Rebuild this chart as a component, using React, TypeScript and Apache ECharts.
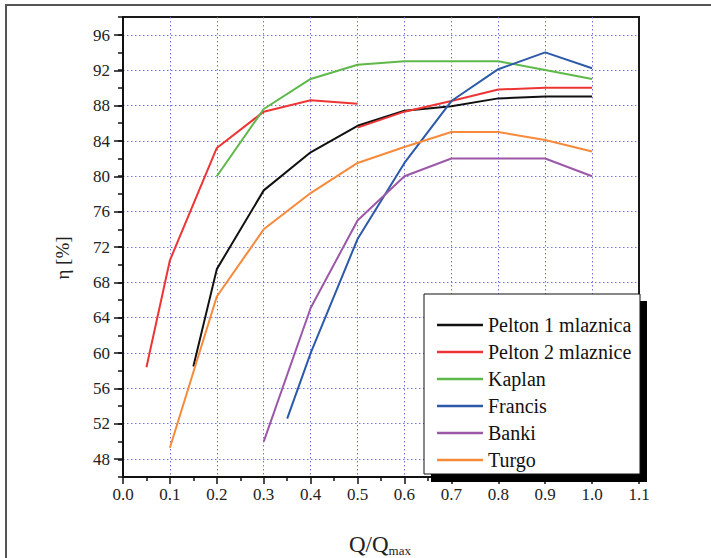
import React, { useEffect, useRef } from "react";
import * as echarts from "echarts";

const seriesNames = ["Pelton 1 mlaznica", "Pelton 2 mlaznice", "Kaplan", "Francis", "Banki", "Turgo"];
const seriesColors = ["#111111", "#ee3535", "#5fb84a", "#2c59a8", "#9b58a8", "#f68a3a"];

const pelton1X = [0.15, 0.2, 0.3, 0.4, 0.5, 0.6, 0.7, 0.8, 0.9, 1.0];
const pelton1Y = [58.5, 69.5, 78.4, 82.7, 85.7, 87.4, 87.9, 88.8, 89.0, 89.0];

const pelton2LowX = [0.05, 0.1, 0.2, 0.3, 0.4, 0.5];
const pelton2LowY = [58.4, 70.5, 83.2, 87.3, 88.6, 88.2];
const pelton2HighX = [0.5, 0.6, 0.7, 0.8, 0.9, 1.0];
const pelton2HighY = [85.5, 87.3, 88.5, 89.8, 90.0, 90.0];

const kaplanX = [0.2, 0.3, 0.4, 0.5, 0.6, 0.7, 0.8, 0.9, 1.0];
const kaplanY = [80.0, 87.6, 91.0, 92.6, 93.0, 93.0, 93.0, 92.0, 91.0];

const francisX = [0.35, 0.4, 0.5, 0.6, 0.7, 0.8, 0.9, 1.0];
const francisY = [52.6, 60.0, 72.9, 81.5, 88.5, 92.1, 94.0, 92.2];

const bankiX = [0.3, 0.4, 0.5, 0.6, 0.7, 0.8, 0.9, 1.0];
const bankiY = [50.0, 65.1, 75.0, 80.0, 82.0, 82.0, 82.0, 80.0];

const turgoX = [0.1, 0.2, 0.3, 0.4, 0.5, 0.6, 0.7, 0.8, 0.9, 1.0];
const turgoY = [49.3, 66.4, 74.0, 78.1, 81.5, 83.3, 85.0, 85.0, 84.1, 82.8];

const xTicks = { min: 0, max: 1.1, interval: 0.1 };
const yMinor = { min: 46, max: 98, interval: 2 };
const yMajor = { min: 48, max: 96, interval: 4 };

const zip = (xs: number[], ys: number[]) => xs.map((x, i) => [x, ys[i]]);

const FONT = "Liberation Serif";

export default function App() {
  const ref = useRef<HTMLDivElement>(null);
  useEffect(() => {
    if (!ref.current) return;
    const chart = echarts.init(ref.current, undefined, { renderer: "svg" });
    const seriesData = [
      zip(pelton1X, pelton1Y),
      [...zip(pelton2LowX, pelton2LowY), [0.5, null], ...zip(pelton2HighX, pelton2HighY)],
      zip(kaplanX, kaplanY),
      zip(francisX, francisY),
      zip(bankiX, bankiY),
      zip(turgoX, turgoY),
    ];
    const gridLineColor = "#7474d2";
    chart.setOption({
      animation: false,
      backgroundColor: "#ffffff",
      grid: [
        { left: 123, right: 72, top: 17, bottom: 81, show: true, borderColor: "#1a1a1a", borderWidth: 2, backgroundColor: "transparent" },
        { left: 123, right: 72, top: 35, bottom: 99, show: false },
      ],
      xAxis: [
        {
          type: "value",
          gridIndex: 0,
          min: xTicks.min,
          max: xTicks.max,
          interval: xTicks.interval,
          axisLine: { show: true, onZero: false, lineStyle: { color: "#111", width: 2 } },
          axisTick: { show: true, length: 7, lineStyle: { color: "#111", width: 1.5 } },
          minorTick: { show: true, splitNumber: 2, length: 4, lineStyle: { color: "#111", width: 1.5 } },
          axisLabel: {
            formatter: (v: number) => v.toFixed(1),
            fontFamily: FONT,
            fontSize: 17,
            color: "#222",
            margin: 9,
          },
          splitLine: {
            show: true,
            showMinLine: false,
            showMaxLine: false,
            lineStyle: { color: gridLineColor, type: [1.5, 2.5], width: 1 },
          },
        },
        { type: "value", gridIndex: 1, min: xTicks.min, max: xTicks.max, show: false },
      ],
      yAxis: [
        {
          type: "value",
          gridIndex: 0,
          min: yMinor.min,
          max: yMinor.max,
          interval: yMinor.interval,
          axisLine: { show: true, onZero: false, lineStyle: { color: "#111", width: 2 } },
          axisTick: { show: true, length: 5, lineStyle: { color: "#111", width: 1.5 } },
          axisLabel: { show: false },
          splitLine: { show: false },
        },
        {
          type: "value",
          gridIndex: 1,
          min: yMajor.min,
          max: yMajor.max,
          interval: yMajor.interval,
          axisLine: { show: false },
          axisTick: { show: true, length: 9, lineStyle: { color: "#111", width: 1.5 } },
          axisLabel: { fontFamily: FONT, fontSize: 17, color: "#222", margin: 13 },
          splitLine: { show: true, lineStyle: { color: gridLineColor, type: [1.5, 2.5], width: 1 } },
        },
      ],
      legend: {
        show: true,
        data: seriesNames.map((name) => ({ name, icon: "rect" })),
        orient: "vertical",
        left: 437,
        top: 315,
        padding: 0,
        itemWidth: 46,
        itemHeight: 2.5,
        itemGap: 7,
        selectedMode: false,
        z: 20,
        textStyle: { fontFamily: FONT, fontSize: 20, color: "#111", lineHeight: 20 },
      },
      graphic: [
        { type: "line", shape: { x1: 5, y1: 5, x2: 711, y2: 5 }, style: { stroke: "#555", lineWidth: 2 }, z: 1 },
        { type: "line", shape: { x1: 6, y1: 5, x2: 6, y2: 558 }, style: { stroke: "#555", lineWidth: 2 }, z: 1 },
        { type: "rect", shape: { x: 431, y: 301, width: 216, height: 181 }, style: { fill: "#000" }, z: 10 },
        { type: "rect", shape: { x: 424, y: 294, width: 216, height: 180 }, style: { fill: "#fff", stroke: "#111", lineWidth: 1 }, z: 11 },
        {
          type: "text",
          x: 62,
          y: 258,
          rotation: Math.PI / 2,
          style: { text: "η [%]", font: `19px "${FONT}"`, fill: "#222", align: "center", verticalAlign: "middle" },
          z: 5,
        },
        {
          type: "text",
          x: 380,
          y: 544,
          style: {
            text: "{a|Q/Q}{s|max}",
            align: "center",
            verticalAlign: "middle",
            rich: {
              a: { fontFamily: FONT, fontSize: 23, fill: "#222", color: "#222" },
              s: { fontFamily: FONT, fontSize: 13, fill: "#222", color: "#222", padding: [12, 0, 0, 0] },
            },
          },
          z: 5,
        },
      ],
      series: seriesNames.map((name, i) => ({
        name,
        type: "line",
        xAxisIndex: 0,
        yAxisIndex: 0,
        data: seriesData[i],
        symbol: "none",
        connectNulls: false,
        color: seriesColors[i],
        itemStyle: { color: seriesColors[i] },
        lineStyle: { color: seriesColors[i], width: 2 },
        z: 3,
      })),
    });
    return () => chart.dispose();
  }, []);
  return <div ref={ref} style={{ width: 711, height: 558, position: "absolute", left: 0, top: 0 }} />;
}
